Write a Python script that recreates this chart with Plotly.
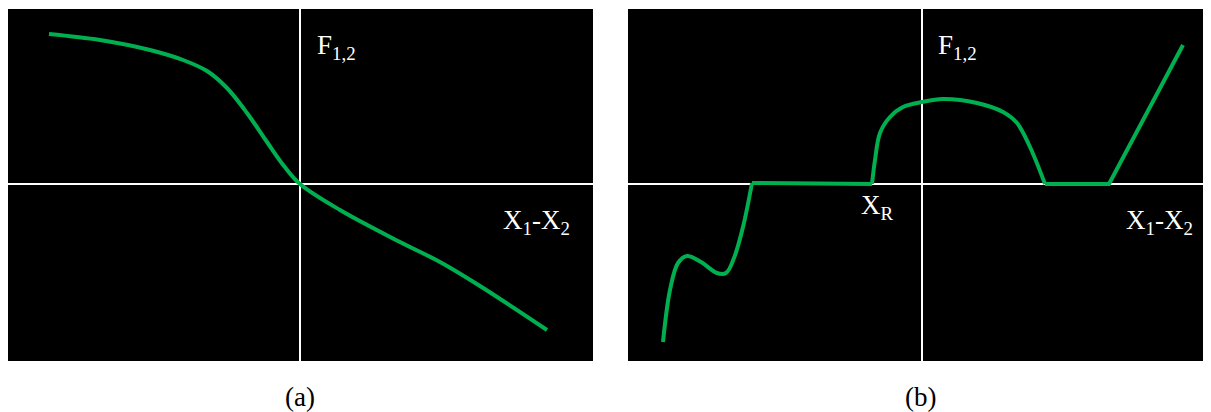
import plotly.graph_objects as go

# values (units: offset from the axis crossing)
a_x = [-251, -200, -150, -117, -93, -73, -53, -33, -16, 0, 40, 100, 140, 180, 247]
a_y = [150, 144, 134, 124, 113, 96, 71, 42, 18, 0, -26, -58, -78, -102, -146]

b1_x = [-259, -252, -244, -235, -221, -205, -196, -188, -179, -170]
b1_y = [-158, -106, -79, -72, -78, -89, -89, -74, -43, 1]
b2_x = [-170, -50]
b2_y = [1, 0]
b3_x = [-50, -47, -42, -32, -19, 0, 21, 55, 81, 95, 108, 123]
b3_y = [0, 24, 51, 67, 77, 82, 85, 81, 72, 61, 37, 0]
b4_x = [123, 187, 261]
b4_y = [0, 0, 139]

green = '#00b050'
# the page body has an 8px margin, so the figure is drawn 8px in from the window corner
OFF = 8
W, H = 1211 - OFF, 412 - OFF

fig = go.Figure()
fig.add_trace(go.Scatter(x=a_x, y=a_y, mode='lines', line=dict(color=green, width=4, shape='spline'),
                         xaxis='x', yaxis='y'))
for xs, ys, shp in [(b1_x, b1_y, 'spline'), (b2_x, b2_y, 'linear'),
                    (b3_x, b3_y, 'spline'), (b4_x, b4_y, 'linear')]:
    fig.add_trace(go.Scatter(x=xs, y=ys, mode='lines', line=dict(color=green, width=4, shape=shp),
                             xaxis='x2', yaxis='y2'))

ax = dict(showgrid=False, showticklabels=False, ticks='', showline=False,
          zeroline=True, zerolinecolor='white', zerolinewidth=2, fixedrange=True)
ydom = [1 - (361 - OFF) / H, 1 - (9 - OFF) / H]

fig.update_layout(
    width=W, height=H, margin=dict(l=0, r=0, t=0, b=0),
    paper_bgcolor='white', plot_bgcolor='black', showlegend=False,
    xaxis=dict(ax, domain=[0, (593 - OFF) / W], range=[-292, 293]),
    yaxis=dict(ax, domain=ydom, range=[-177, 175]),
    xaxis2=dict(ax, domain=[(628 - OFF) / W, 1], range=[-294, 289]),
    yaxis2=dict(ax, domain=ydom, range=[-177, 175], anchor='x2'),
    font=dict(family='Liberation Serif', size=27, color='white'),
)

labels = [
    ('x', 'y', 15, 137, 'F<sub>1,2</sub>'),
    ('x', 'y', 201, -38, 'X<sub>1</sub>-X<sub>2</sub>'),
    ('x2', 'y2', 14, 137, 'F<sub>1,2</sub>'),
    ('x2', 'y2', -63, -23, 'X<sub>R</sub>'),
    ('x2', 'y2', 202, -38, 'X<sub>1</sub>-X<sub>2</sub>'),
]
for xr, yr, x, y, t in labels:
    fig.add_annotation(xref=xr, yref=yr, x=x, y=y, text=t, showarrow=False,
                       xanchor='left', yanchor='middle')

for x, t in [(300 - OFF, '(a)'), (920 - OFF, '(b)')]:
    fig.add_annotation(xref='paper', yref='paper', x=x / W, y=1 - (397 - OFF) / H, text=t,
                       showarrow=False, font=dict(color='black', size=27),
                       xanchor='center', yanchor='middle')

fig.write_html("out.html")
